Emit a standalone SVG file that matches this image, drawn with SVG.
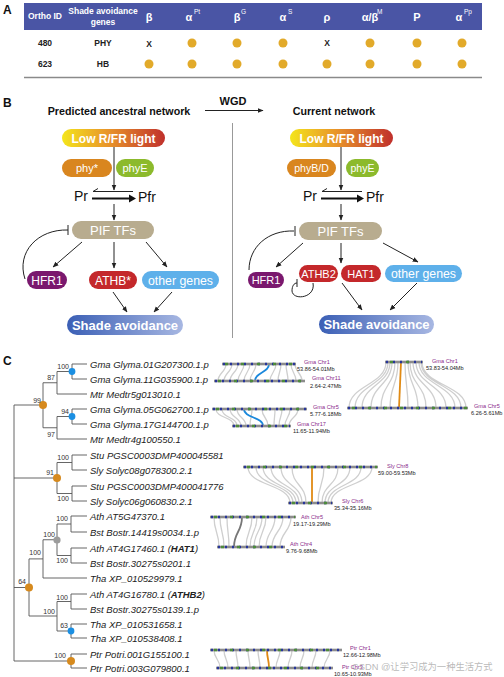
<svg xmlns="http://www.w3.org/2000/svg" width="504" height="677" viewBox="0 0 504 677">
<defs>
<linearGradient id="gLow" x1="0" y1="0" x2="1" y2="0">
<stop offset="0" stop-color="#f4e51c"/><stop offset="0.45" stop-color="#e8942a"/><stop offset="1" stop-color="#c0302c"/>
</linearGradient>
<linearGradient id="gShade" x1="0" y1="0" x2="1" y2="0">
<stop offset="0" stop-color="#3b5fb5"/><stop offset="1" stop-color="#a7b7e2"/>
</linearGradient>
<marker id="ah" viewBox="0 0 10 10" refX="9" refY="5" markerWidth="6" markerHeight="6" orient="auto">
<path d="M0,1 L10,5 L0,9 z" fill="#222"/>
</marker>
<style>
.sans{font-family:"Liberation Sans",Arial,sans-serif}
.hd{font-family:"Liberation Sans",Arial,sans-serif;font-weight:bold;fill:#fff;font-size:8.5px;text-anchor:middle}
.gk{font-family:"Liberation Sans",Arial,sans-serif;font-weight:bold;fill:#fff;font-size:11px;text-anchor:middle}
.sup{font-family:"Liberation Sans",Arial,sans-serif;fill:#fff;font-size:6.5px}
.cell{font-family:"Liberation Sans",Arial,sans-serif;font-weight:bold;fill:#222;font-size:8.5px;text-anchor:middle}
.dot{fill:#e2aa2a}
.pl{font-family:"Liberation Sans",Arial,sans-serif;fill:#fff;text-anchor:middle}
.ar{stroke:#222;stroke-width:1;fill:none;marker-end:url(#ah)}
.inh{stroke:#222;stroke-width:1;fill:none}
.br{stroke:#555;stroke-width:0.9;fill:none}
.leaf{font-family:"Liberation Sans",Arial,sans-serif;font-style:italic;font-size:9.5px;fill:#222}
.bs{font-family:"Liberation Sans",Arial,sans-serif;font-size:7px;fill:#333;text-anchor:end}
.lk{stroke:#cfcfcf;stroke-width:1.3;fill:none}
.chr{fill:#8c8c8c}
.cb{stroke:#27359a;stroke-width:2.6;stroke-dasharray:2 5;fill:none}
.cg{stroke:#4d8b3a;stroke-width:2.6;stroke-dasharray:3 13;fill:none}
.cn{font-family:"Liberation Sans",Arial,sans-serif;font-size:5.6px;fill:#8a2a8a}
.cr{font-family:"Liberation Sans",Arial,sans-serif;font-size:5.6px;fill:#222}
.panel{font-family:"Liberation Sans",Arial,sans-serif;font-weight:bold;font-size:12px;fill:#111}
</style>
</defs>
<rect width="504" height="677" fill="#fff"/>

<!-- Section A -->
<g id="panelA">
<text class="panel" x="3" y="14">A</text>
<rect x="24" y="3" width="458" height="27" fill="#4a55a5"/>
<text class="hd" x="45" y="19">Ortho ID</text>
<text class="hd" x="103" y="14">Shade avoidance</text>
<text class="hd" x="103" y="25">genes</text>
<text class="gk" x="149" y="21">β</text>
<text class="gk" x="189" y="21">α</text><text class="sup" x="194" y="14">Pt</text>
<text class="gk" x="237" y="21">β</text><text class="sup" x="241" y="14">G</text>
<text class="gk" x="283" y="21">α</text><text class="sup" x="288" y="14">S</text>
<text class="gk" x="327" y="21">ρ</text>
<text class="gk" x="370" y="21">α/β</text><text class="sup" x="377" y="14">M</text>
<text class="gk" x="417" y="21">P</text>
<text class="gk" x="459" y="21">α</text><text class="sup" x="464" y="14">Pp</text>
<text class="cell" x="45" y="46">480</text>
<text class="cell" x="103" y="46">PHY</text>
<text class="cell" x="149" y="47">X</text>
<circle class="dot" cx="192" cy="43" r="4.5"/><circle class="dot" cx="237" cy="43" r="4.5"/><circle class="dot" cx="283" cy="43" r="4.5"/>
<text class="cell" x="327" y="46">X</text>
<circle class="dot" cx="370" cy="43" r="4.5"/><circle class="dot" cx="417" cy="43" r="4.5"/><circle class="dot" cx="462" cy="43" r="4.5"/>
<text class="cell" x="45" y="67">623</text>
<text class="cell" x="103" y="67">HB</text>
<circle class="dot" cx="149" cy="64" r="4.5"/><circle class="dot" cx="192" cy="64" r="4.5"/><circle class="dot" cx="237" cy="64" r="4.5"/><circle class="dot" cx="283" cy="64" r="4.5"/>
<circle class="dot" cx="327" cy="64" r="4.5"/><circle class="dot" cx="370" cy="64" r="4.5"/><circle class="dot" cx="417" cy="64" r="4.5"/><circle class="dot" cx="462" cy="64" r="4.5"/>
<line x1="24" y1="77.5" x2="482" y2="77.5" stroke="#8a8a8a" stroke-width="1.5"/>
</g>

<!-- Section B -->
<g id="panelB-titles">
<text class="panel" x="3" y="107">B</text>
<text class="sans" x="119" y="115" font-size="10.7" font-weight="bold" text-anchor="middle" fill="#111">Predicted ancestral network</text>
<text class="sans" x="233" y="105" font-size="11" font-weight="bold" text-anchor="middle" fill="#111">WGD</text>
<text class="sans" x="334" y="115" font-size="10.7" font-weight="bold" text-anchor="middle" fill="#111">Current network</text>
<line x1="232.5" y1="123" x2="232.5" y2="338" stroke="#999" stroke-width="1"/>
</g>

<g id="connectorsB">
<line class="ar" x1="205" y1="110.5" x2="263" y2="110.5"/>
<!-- left -->
<line class="ar" x1="114" y1="147" x2="114" y2="190"/>
<line class="ar" x1="114" y1="204" x2="114" y2="220"/>
<path class="inh" d="M133,191.5 H93 l5,-3"/>
<path d="M92,198.5 H130" stroke="#111" stroke-width="2.2" fill="none"/>
<path d="M129,194.5 L136,198.5 L129,202.5 z" fill="#111"/>
<line class="ar" x1="82" y1="242" x2="53" y2="267"/>
<line class="ar" x1="114" y1="242" x2="114" y2="268"/>
<line class="ar" x1="146" y1="242" x2="167" y2="267"/>
<path class="inh" d="M25,279 C16,252 38,229 68,230"/>
<line class="inh" x1="68" y1="225" x2="68" y2="235"/>
<line class="ar" x1="113" y1="292" x2="127" y2="312"/>
<line class="ar" x1="172" y1="292" x2="154" y2="312"/>
<!-- right -->
<line class="ar" x1="341" y1="147" x2="341" y2="190"/>
<line class="ar" x1="341" y1="204" x2="341" y2="220"/>
<path class="inh" d="M362,191.5 H322 l5,-3"/>
<path d="M321,198.5 H358" stroke="#111" stroke-width="2.2" fill="none"/>
<path d="M357,194.5 L364,198.5 L357,202.5 z" fill="#111"/>
<line class="ar" x1="303" y1="243" x2="276" y2="267"/>
<line class="ar" x1="341" y1="243" x2="341" y2="263"/>
<line class="ar" x1="383" y1="243" x2="418" y2="262"/>
<path class="inh" d="M249,270 C249,247 268,230 294,231"/>
<line class="inh" x1="295" y1="226" x2="295" y2="236"/>
<path class="inh" d="M313,283 C316,298 293,301 292,291 C292,286 294,283 297,283"/>
<line class="inh" x1="297" y1="279" x2="297" y2="287"/>
<line class="ar" x1="342" y1="283" x2="362" y2="310"/>
<line class="ar" x1="417" y1="283" x2="390" y2="310"/>
</g>

<g id="L-low"><rect x="62" y="129" width="103" height="18" rx="9" fill="url(#gLow)"/><text class="pl" x="113.5" y="142.5" font-size="12" font-weight="bold">Low R/FR light</text></g>
<g id="L-phy"><rect x="62" y="159" width="50" height="18" rx="9" fill="#d9861f"/><text class="pl" x="87" y="172" font-size="11">phy*</text></g>
<g id="L-phyE"><rect x="116" y="159" width="38" height="18" rx="9" fill="#8cba2c"/><text class="pl" x="135" y="172" font-size="11">phyE</text></g>
<g id="L-prpfr"><text class="sans" x="74" y="201" font-size="14" fill="#111">Pr</text><text class="sans" x="138" y="202" font-size="14" fill="#111">Pfr</text></g>
<g id="L-pif"><rect x="72" y="221" width="82" height="18" rx="9" fill="#b8ac8f"/><text class="pl" x="113" y="235" font-size="13">PIF TFs</text></g>
<g id="L-hfr1"><rect x="27" y="271" width="40" height="18" rx="9" fill="#7a186e"/><text class="pl" x="47" y="284.5" font-size="12">HFR1</text></g>
<g id="L-athb"><rect x="89" y="271" width="48" height="18" rx="9" fill="#c4282b"/><text class="pl" x="113" y="284.5" font-size="12">ATHB*</text></g>
<g id="L-other"><rect x="142" y="271" width="77" height="18" rx="9" fill="#5eb0ea"/><text class="pl" x="180.5" y="284.5" font-size="12.3">other genes</text></g>
<g id="L-shade"><rect x="67" y="315" width="116" height="20" rx="10" fill="url(#gShade)"/><text class="pl" x="125" y="329.5" font-size="13" font-weight="bold">Shade avoidance</text></g>

<g id="R-low"><rect x="290" y="129" width="103" height="18" rx="9" fill="url(#gLow)"/><text class="pl" x="341.5" y="142.5" font-size="12" font-weight="bold">Low R/FR light</text></g>
<g id="R-phyBD"><rect x="287" y="159" width="49" height="18" rx="9" fill="#d9861f"/><text class="pl" x="311.5" y="172" font-size="10.5">phyB/D</text></g>
<g id="R-phyE"><rect x="346" y="159" width="33" height="18" rx="9" fill="#8cba2c"/><text class="pl" x="362.5" y="172" font-size="10.5">phyE</text></g>
<g id="R-prpfr"><text class="sans" x="303" y="201" font-size="14" fill="#111">Pr</text><text class="sans" x="366" y="202" font-size="14" fill="#111">Pfr</text></g>
<g id="R-pif"><rect x="299" y="222" width="83" height="18" rx="9" fill="#b8ac8f"/><text class="pl" x="340.5" y="236" font-size="13">PIF TFs</text></g>
<g id="R-hfr1"><rect x="248" y="272" width="36" height="16" rx="8" fill="#7a186e"/><text class="pl" x="266" y="284" font-size="11">HFR1</text></g>
<g id="R-athb2"><rect x="299" y="265" width="39" height="17" rx="8.5" fill="#c4282b"/><text class="pl" x="318.5" y="277.5" font-size="11">ATHB2</text></g>
<g id="R-hat1"><rect x="341" y="265" width="40" height="17" rx="8.5" fill="#c4282b"/><text class="pl" x="361" y="277.5" font-size="11">HAT1</text></g>
<g id="R-other"><rect x="385" y="265" width="77" height="17" rx="8.5" fill="#5eb0ea"/><text class="pl" x="423.5" y="278" font-size="12.3">other genes</text></g>
<g id="R-shade"><rect x="319" y="315" width="115" height="19" rx="9.5" fill="url(#gShade)"/><text class="pl" x="376.5" y="329" font-size="13" font-weight="bold">Shade avoidance</text></g>

<!-- Section C -->
<g id="panelC-tree">
<text class="panel" x="3" y="365">C</text>
<path class="br" d="M72,364 V379 M72,364 H87 M72,379 H87
M57,371.5 V394 M57,371.5 H72 M57,394 H87
M72,409 V424 M72,409 H87 M72,424 H87
M57,416.5 V439 M57,416.5 H72 M57,439 H87
M43,382.75 V427.75 M43,382.75 H57 M43,427.75 H57
M72,455 V470 M72,455 H87 M72,470 H87
M72,486 V501 M72,486 H87 M72,501 H87
M57,462.5 V493.5 M57,462.5 H72 M57,493.5 H72
M71,516 V532 M71,516 H87 M71,532 H87
M71,548 V563 M71,548 H87 M71,563 H87
M57,524 V555.5 M57,524 H71 M57,555.5 H71
M43,539.75 V578 M43,539.75 H57 M43,578 H87
M71,594 V609 M71,594 H87 M71,609 H87
M71,624 V638 M71,624 H87 M71,638 H87
M57,601.5 V631 M57,601.5 H71 M57,631 H71
M29,558.9 V616 M29,558.9 H43 M29,616 H57
M71,654 V668 M71,654 H87 M71,668 H87
M14,405 V661 M14,405 H43 M14,478 H57 M14,587.5 H29 M14,661 H71"/>
<circle cx="72" cy="371.5" r="3.4" fill="#1b8fe2"/>
<circle cx="72" cy="416.5" r="3.4" fill="#1b8fe2"/>
<circle cx="43" cy="405" r="4" fill="#d68a1e"/>
<circle cx="57" cy="478" r="4" fill="#d68a1e"/>
<circle cx="57" cy="540" r="3.6" fill="#9c9c9c"/>
<circle cx="71" cy="631" r="3.4" fill="#1b8fe2"/>
<circle cx="29" cy="587.5" r="4" fill="#d68a1e"/>
<circle cx="71" cy="661" r="4" fill="#d68a1e"/>
<text class="bs" x="69" y="369">100</text>
<text class="bs" x="55" y="380">87</text>
<text class="bs" x="69" y="414">94</text>
<text class="bs" x="55" y="437">97</text>
<text class="bs" x="41" y="403">99</text>
<text class="bs" x="69" y="460">100</text>
<text class="bs" x="69" y="501">100</text>
<text class="bs" x="54" y="475">91</text>
<text class="bs" x="68" y="521">100</text>
<text class="bs" x="68" y="563">100</text>
<text class="bs" x="55" y="537">100</text>
<text class="bs" x="41" y="555">100</text>
<text class="bs" x="68" y="600">100</text>
<text class="bs" x="68" y="628">63</text>
<text class="bs" x="55" y="614">100</text>
<text class="bs" x="26" y="584">64</text>
<text class="bs" x="66" y="658">100</text>
</g>

<g id="leaves">
<text class="leaf" x="90" y="367.5">Gma Glyma.01G207300.1.p</text>
<text class="leaf" x="90" y="382.5">Gma Glyma.11G035900.1.p</text>
<text class="leaf" x="90" y="397.5">Mtr Medtr5g013010.1</text>
<text class="leaf" x="90" y="412.5">Gma Glyma.05G062700.1.p</text>
<text class="leaf" x="90" y="427.5">Gma Glyma.17G144700.1.p</text>
<text class="leaf" x="90" y="442.5">Mtr Medtr4g100550.1</text>
<text class="leaf" x="90" y="458.5">Stu PGSC0003DMP400045581</text>
<text class="leaf" x="90" y="473.5">Sly Solyc08g078300.2.1</text>
<text class="leaf" x="90" y="489.5">Stu PGSC0003DMP400041776</text>
<text class="leaf" x="90" y="504.5">Sly Solyc06g060830.2.1</text>
<text class="leaf" x="90" y="519.5">Ath AT5G47370.1</text>
<text class="leaf" x="90" y="535.5">Bst Bostr.14419s0034.1.p</text>
<text class="leaf" x="90" y="551.5">Ath AT4G17460.1 (<tspan font-weight="bold">HAT1</tspan>)</text>
<text class="leaf" x="90" y="566.5">Bst Bostr.30275s0201.1</text>
<text class="leaf" x="90" y="581.5">Tha XP_010529979.1</text>
<text class="leaf" x="90" y="597.5">Ath AT4G16780.1 (<tspan font-weight="bold">ATHB2</tspan>)</text>
<text class="leaf" x="90" y="612.5">Bst Bostr.30275s0139.1.p</text>
<text class="leaf" x="90" y="627.5">Tha XP_010531658.1</text>
<text class="leaf" x="90" y="641.5">Tha XP_010538408.1</text>
<text class="leaf" x="90" y="657.5">Ptr Potri.001G155100.1</text>
<text class="leaf" x="90" y="671.5">Ptr Potri.003G079800.1</text>
</g>

<!-- Synteny panels -->
<g id="syn1">
<path class="lk" d="M226,364 C226,372 218,373 218,381 M232,364 C232,372 224,373 224,381 M238,364 C238,372 230,373 230,381 M244,364 C244,372 238,373 238,381 M250,364 C250,372 244,373 244,381 M256,364 C256,372 250,373 250,381 M276,364 C276,372 270,373 270,381 M281,364 C281,372 278,373 278,381 M286,364 C286,372 288,373 288,381 M291,364 C291,372 296,373 296,381 M295,364 C295,372 302,373 302,381"/>
<path d="M269,364 C269,373 255,372 255,381" stroke="#1a88dc" stroke-width="1.8" fill="none"/>
<rect class="chr" x="222" y="362.7" width="74" height="2.6"/><line class="cb" x1="223" y1="364" x2="295" y2="364"/><line class="cg" x1="225" y1="364" x2="295" y2="364"/>
<rect class="chr" x="214" y="379.7" width="91" height="2.6"/><line class="cb" x1="215" y1="381" x2="304" y2="381"/><line class="cg" x1="218" y1="381" x2="304" y2="381"/>
<text class="cn" x="304" y="364">Gma Chr1</text><text class="cr" x="297" y="371">53.86-54.01Mb</text>
<text class="cn" x="312" y="380">Gma Chr11</text><text class="cr" x="310" y="388">2.64-2.47Mb</text>
</g>

<g id="syn2">
<path class="lk" d="M216,409 C216,418 234,417 234,426 M222,409 C222,418 237,417 237,426 M230,409 C230,418 241,417 241,426 M237,409 C237,418 246,417 246,426 M252,409 C252,418 250,417 250,426 M262,409 C262,418 268,417 268,426 M275,409 C275,418 274,417 274,426 M282,409 C282,418 279,417 279,426 M290,409 C290,418 285,417 285,426 M298,409 C298,418 289,417 289,426"/>
<path d="M244,409 C244,418 263,417 263,426" stroke="#1a88dc" stroke-width="1.8" fill="none"/>
<rect class="chr" x="212" y="407.7" width="95" height="2.6"/><line class="cb" x1="213" y1="409" x2="306" y2="409"/><line class="cg" x1="216" y1="409" x2="306" y2="409"/>
<rect class="chr" x="232" y="424.7" width="59" height="2.6"/><line class="cb" x1="233" y1="426" x2="290" y2="426"/><line class="cg" x1="236" y1="426" x2="290" y2="426"/>
<text class="cn" x="313" y="409">Gma Chr5</text><text class="cr" x="310" y="416">5.77-6.18Mb</text>
<text class="cn" x="297" y="426">Gma Chr17</text><text class="cr" x="293" y="433">11.65-11.94Mb</text>
</g>

<g id="syn3">
<path class="lk" d="M386,362 C386,385 349,385 349,408 M388,362 C388,385 355,385 355,408 M390,362 C390,385 362,385 362,408 M392,362 C392,385 371,385 371,408 M395,362 C395,385 381,385 381,408 M398,362 C398,385 390,385 390,408 M405,362 C405,385 408,385 408,408 M408,362 C408,385 418,385 418,408 M410,362 C410,385 426,385 426,408 M413,362 C413,385 436,385 436,408 M416,362 C416,385 446,385 446,408 M419,362 C419,385 455,385 455,408 M421,362 C421,385 461,385 461,408 M422,362 C422,385 466,385 466,408"/>
<line x1="401" y1="362" x2="399" y2="408" stroke="#e08a14" stroke-width="1.8"/>
<rect class="chr" x="385" y="360.7" width="38" height="2.6"/><line class="cb" x1="386" y1="362" x2="422" y2="362"/><line class="cg" x1="390" y1="362" x2="422" y2="362"/>
<rect class="chr" x="347" y="406.7" width="121" height="2.6"/><line class="cb" x1="348" y1="408" x2="467" y2="408"/><line class="cg" x1="352" y1="408" x2="467" y2="408"/>
<text class="cn" x="432" y="363">Gma Chr1</text><text class="cr" x="426" y="370">53.83-54.04Mb</text>
<text class="cn" x="474" y="408">Gma Chr5</text><text class="cr" x="471" y="415">6.26-5.61Mb</text>
</g>

<g id="syn4">
<path class="lk" d="M248,467 C248,486 290,484 290,503 M256,467 C256,486 293,484 293,503 M263,467 C263,486 296,484 296,503 M271,467 C271,486 299,484 299,503 M281,467 C281,486 302,484 302,503 M292,467 C292,486 306,484 306,503 M324,467 C324,486 318,484 318,503 M338,467 C338,486 322,484 322,503 M350,467 C350,486 325,484 325,503 M361,467 C361,486 328,484 328,503 M372,467 C372,486 331,484 331,503"/>
<line x1="312" y1="467" x2="312" y2="503" stroke="#e08a14" stroke-width="1.8"/>
<rect class="chr" x="243" y="465.7" width="135" height="2.6"/><line class="cb" x1="244" y1="467" x2="377" y2="467"/><line class="cg" x1="247" y1="467" x2="377" y2="467"/>
<rect class="chr" x="288" y="501.7" width="45" height="2.6"/><line class="cb" x1="289" y1="503" x2="332" y2="503"/><line class="cg" x1="292" y1="503" x2="332" y2="503"/>
<text class="cn" x="387" y="468">Sly Chr8</text><text class="cr" x="378" y="475">59.00-59.53Mb</text>
<text class="cn" x="342" y="503">Sly Chr6</text><text class="cr" x="334" y="510">35.34-35.16Mb</text>
</g>

<g id="syn5">
<path class="lk" d="M214,517 C214,532 219,532 219,547 M220,517 C220,532 224,532 224,547 M227,517 C227,532 229,532 229,547 M252,517 C252,532 246,532 246,547 M257,517 C257,532 250,532 250,547 M262,517 C262,532 254,532 254,547 M266,517 C266,532 259,532 259,547 M275,517 C275,532 266,532 266,547 M283,517 C283,532 272,532 272,547 M291,517 C291,532 280,532 280,547"/>
<path d="M242,517 C242,532 234,532 234,547" stroke="#777" stroke-width="1.8" fill="none"/>
<rect class="chr" x="210" y="515.7" width="86" height="2.6"/><line class="cb" x1="211" y1="517" x2="295" y2="517"/><line class="cg" x1="214" y1="517" x2="295" y2="517"/>
<rect class="chr" x="217" y="545.7" width="68" height="2.6"/><line class="cb" x1="218" y1="547" x2="284" y2="547"/><line class="cg" x1="221" y1="547" x2="284" y2="547"/>
<text class="cn" x="301" y="519">Ath Chr5</text><text class="cr" x="293" y="526">19.17-19.29Mb</text>
<text class="cn" x="290" y="546">Ath Chr4</text><text class="cr" x="286" y="553">9.76-9.68Mb</text>
</g>

<g id="syn6">
<path class="lk" d="M214,650 C214,659 220,659 220,668 M224,650 C224,659 228,659 228,668 M236,650 C236,659 238,659 238,668 M248,650 C248,659 250,659 250,668 M258,650 C258,659 260,659 260,668 M280,650 C280,659 276,659 276,668 M292,650 C292,659 288,659 288,668 M304,650 C304,659 300,659 300,668 M316,650 C316,659 312,659 312,668 M330,650 C330,659 324,659 324,668"/>
<path d="M267,650 C267,659 269,659 269,668" stroke="#e08a14" stroke-width="1.8" fill="none"/>
<rect class="chr" x="210" y="648.7" width="132" height="2.6"/><line class="cb" x1="211" y1="650" x2="341" y2="650"/><line class="cg" x1="214" y1="650" x2="341" y2="650"/>
<rect class="chr" x="216" y="666.7" width="117" height="2.6"/><line class="cb" x1="217" y1="668" x2="332" y2="668"/><line class="cg" x1="220" y1="668" x2="332" y2="668"/>
<text class="cn" x="350" y="650">Ptr Chr1</text><text class="cr" x="343" y="657">12.66-12.98Mb</text>
<text class="cn" x="342" y="669">Ptr Chr3</text><text class="cr" x="334" y="676">10.65-10.93Mb</text>
</g>

<text x="352" y="670" font-family="Liberation Sans, Noto Sans CJK SC, sans-serif" font-size="9.3" fill="#999" fill-opacity="0.7">CSDN @让学习成为一种生活方式</text>
</svg>
